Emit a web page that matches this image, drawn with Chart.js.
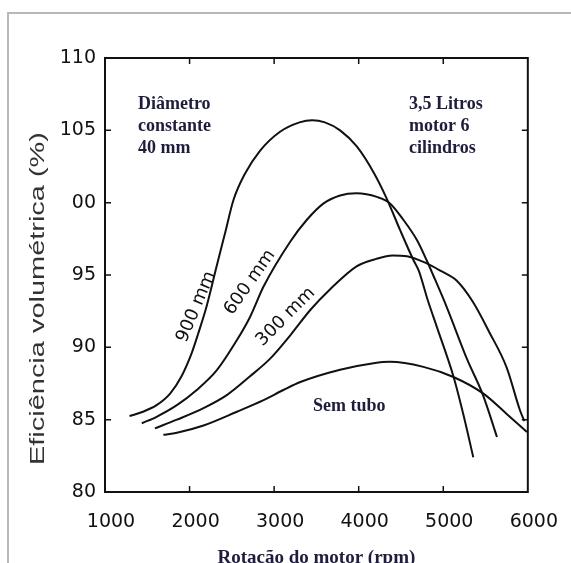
<!DOCTYPE html>
<html>
<head>
<meta charset="utf-8">
<script src="https://cdn.jsdelivr.net/npm/chart.js"></script>
<style>
  body{margin:0;background:#fff;}
  #plot_canvas{display:block;}
</style>
</head>
<body>
<canvas id="plot_canvas" width="571" height="563"></canvas>
<script>
// values (rpm / %)
const rpm900=[1290,1450,1610,1770,1905,2025,2105,2200,2320,2420,2520,2655,2835,3070,3300,3450,3600,3780,3975,4175,4330,4490,4650,4710,4820,4925,5125,5240,5355]
const eff900=[85.25,85.55,86.0,86.8,88.0,89.6,91.0,92.8,95.6,97.9,100.2,102.0,103.6,104.9,105.55,105.7,105.55,105.0,103.9,102.1,100.3,98.1,96.0,95.3,93.2,91.4,87.9,85.3,82.4]

const rpm600=[1435,1610,1850,2085,2320,2560,2715,2875,3190,3385,3585,3780,3975,4215,4370,4530,4690,4805,4880,5040,5280,5470,5635]
const eff600=[84.75,85.2,86.0,87.05,88.4,90.5,92.1,94.2,97.3,98.8,99.95,100.5,100.65,100.4,99.95,98.8,97.4,96.0,95.0,92.8,89.2,86.7,83.8]

const rpm300=[1590,1850,2165,2440,2715,2950,3200,3430,3660,3975,4200,4400,4570,4805,4965,5160,5355,5540,5750,5910,5960]
const eff300=[84.4,85.0,85.8,86.7,88.0,89.2,90.9,92.6,94.0,95.6,96.1,96.35,96.3,95.8,95.3,94.6,93.1,91.1,88.6,85.6,84.9]

const rpmSem=[1690,1850,2165,2560,2875,3110,3310,3780,4175,4370,4765,5120,5475,5750,5990]
const effSem=[83.95,84.1,84.6,85.55,86.35,87.05,87.6,88.45,88.9,89.0,88.65,87.95,86.8,85.4,84.15]

const xTicks=[1000,2000,3000,4000,5000,6000]
const yTicks=[80,85,90,95,100,105,110]
const yTickLabels=["80","85","90","95","00","105","110"]

const curveNames=["900 mm","600 mm","300 mm","Sem tubo"]

const toPoints=(xs,ys)=>xs.map((x,i)=>({x:x,y:ys[i]}))

// frame, inward ticks, y title and the texts written on the plot
const decor={
  id:"decor",
  beforeDraw(chart){
    let ctx=chart.ctx
    ctx.save()
    ctx.strokeStyle="#b8b8b8"
    ctx.lineWidth=2
    ctx.beginPath()
    ctx.moveTo(8,563)
    ctx.lineTo(8,13)
    ctx.lineTo(571,13)
    ctx.stroke()
    ctx.restore()
  },
  afterDraw(chart){
    let ctx=chart.ctx
    let a=chart.chartArea
    let xs=chart.scales.x
    let ys=chart.scales.y
    ctx.save()
    ctx.strokeStyle="#111"
    ctx.lineWidth=2
    ctx.strokeRect(a.left,a.top,a.right-a.left,a.bottom-a.top)
    ctx.lineWidth=1.5
    ctx.beginPath()
    xTicks.slice(1,-1).forEach(v=>{
      let px=xs.getPixelForValue(v)
      ctx.moveTo(px,a.bottom);ctx.lineTo(px,a.bottom-6)
      ctx.moveTo(px,a.top);ctx.lineTo(px,a.top+6)
    })
    yTicks.slice(1,-1).forEach(v=>{
      let py=ys.getPixelForValue(v)
      ctx.moveTo(a.left,py);ctx.lineTo(a.left+6,py)
      ctx.moveTo(a.right,py);ctx.lineTo(a.right-6,py)
    })
    ctx.stroke()

    // y axis title, drawn wide like in the scan
    ctx.save()
    ctx.translate(43.5,298.5)
    ctx.rotate(-Math.PI/2)
    ctx.font="20px 'Liberation Sans', Arial, sans-serif"
    let t="Eficiência volumétrica (%)"
    let w=ctx.measureText(t).width
    ctx.scale(333/w,1)
    ctx.fillStyle="#333"
    ctx.textAlign="center"
    ctx.textBaseline="alphabetic"
    ctx.fillText(t,0,0)
    ctx.restore()

    // bold notes
    ctx.fillStyle="#1e1e3c"
    ctx.font="bold 18px 'Liberation Serif', 'Times New Roman', serif"
    ctx.textAlign="left"
    ctx.textBaseline="alphabetic"
    let notes=[
      {x:1390,y:106.47,lines:["Diâmetro","constante","40 mm"]},
      {x:4596,y:106.47,lines:["3,5 Litros","motor 6","cilindros"]},
      {x:3461,y:85.6,lines:[curveNames[3]]}
    ]
    notes.forEach(n=>{
      let px=xs.getPixelForValue(n.x)
      let py=ys.getPixelForValue(n.y)
      n.lines.forEach((l,i)=>ctx.fillText(l,px,py+i*22))
    })

    // rotated curve names
    ctx.fillStyle="#111"
    ctx.font="18px 'DejaVu Sans', sans-serif"
    ctx.textAlign="center"
    ctx.textBaseline="middle"
    let tags=[
      {x:2080,y:92.8,ang:-67,text:curveNames[0]},
      {x:2715,y:94.49,ang:-55,text:curveNames[1]},
      {x:3138,y:92.11,ang:-45,text:curveNames[2]}
    ]
    tags.forEach(g=>{
      ctx.save()
      ctx.translate(xs.getPixelForValue(g.x),ys.getPixelForValue(g.y))
      ctx.rotate(g.ang*Math.PI/180)
      ctx.fillText(g.text,0,0)
      ctx.restore()
    })
    ctx.restore()
  }
}

const lineSet=(label,xs,ys)=>({
  label:label,
  data:toPoints(xs,ys),
  borderColor:"#111",
  borderWidth:2,
  pointRadius:0,
  fill:false,
  cubicInterpolationMode:"monotone"
})

const config={
  type:"line",
  data:{
    datasets:[
      lineSet(curveNames[0],rpm900,eff900),
      lineSet(curveNames[1],rpm600,eff600),
      lineSet(curveNames[2],rpm300,eff300),
      lineSet(curveNames[3],rpmSem,effSem)
    ]
  },
  options:{
    responsive:false,
    animation:false,
    layout:{padding:{left:0,top:58,right:43,bottom:0}},
    plugins:{legend:{display:false},tooltip:{enabled:false}},
    scales:{
      x:{
        type:"linear",
        min:1000,max:6000,
        afterFit:(s)=>{s.height=71},
        afterBuildTicks:(s)=>{s.ticks=xTicks.map(v=>({value:v}))},
        grid:{display:false,drawTicks:false},
        border:{display:false},
        ticks:{
          padding:19,
          labelOffset:6,
          maxRotation:0,
          color:"#111",
          font:{family:"'DejaVu Sans', sans-serif",size:19},
          callback:(v)=>String(v)
        },
        title:{
          display:true,
          text:"Rotação do motor (rpm)",
          color:"#1e1e3c",
          padding:{top:0,bottom:-6},
          font:{family:"'Liberation Serif', 'Times New Roman', serif",size:19,weight:"bold"}
        }
      },
      y:{
        min:80,max:110,
        afterFit:(s)=>{s.width=105},
        afterBuildTicks:(s)=>{s.ticks=yTicks.map(v=>({value:v}))},
        grid:{display:false,drawTicks:false},
        border:{display:false},
        ticks:{
          padding:9,
          color:"#111",
          font:{family:"'DejaVu Sans', sans-serif",size:19},
          callback:(v)=>yTickLabels[yTicks.indexOf(v)]
        }
      }
    }
  },
  plugins:[decor]
}

new Chart(document.getElementById("plot_canvas"),config)
</script>
</body>
</html>
